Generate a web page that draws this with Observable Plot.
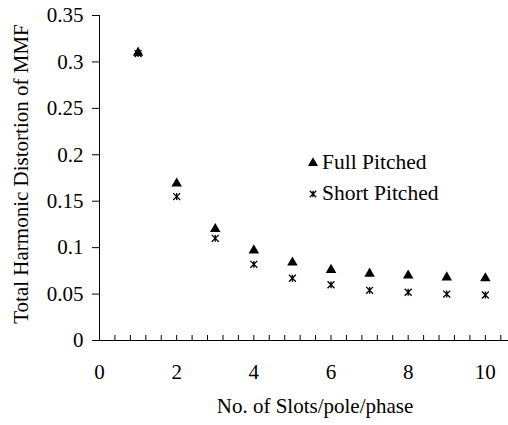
<!DOCTYPE html>
<html>
<head>
<meta charset="utf-8">
<script src="https://cdn.jsdelivr.net/npm/d3@7"></script>
<script src="https://cdn.jsdelivr.net/npm/@observablehq/plot@0.6"></script>
<style>
  html, body { margin: 0; padding: 0; background: #fff; }
  #wrap { position: relative; width: 508px; height: 425px; }
  #wrap, #wrap svg, #wrap svg text, .leg { font-family: 'Liberation Serif', serif !important; }
  .leg { position: absolute; left: 307px; font-size: 21.5px; color: #000; display: flex; align-items: center; white-space: nowrap; line-height: 24px; }
  .leg svg { margin-right: 2px; }
</style>
</head>
<body>
<div id="wrap"></div>
<script>
// Data
const slots = [1, 2, 3, 4, 5, 6, 7, 8, 9, 10];
const fullPitched = [0.310, 0.169, 0.120, 0.097, 0.084, 0.076, 0.072, 0.070, 0.068, 0.067];
const shortPitched = [0.309, 0.155, 0.110, 0.082, 0.067, 0.060, 0.054, 0.052, 0.050, 0.049];
const yTickValues = [0, 0.05, 0.1, 0.15, 0.2, 0.25, 0.3, 0.35];
const xTickLabels = [0, 2, 4, 6, 8, 10];
const xMinorTicks = d3.range(0, 27).map(i => +(i * 0.4).toFixed(1));
const seriesNames = ["Full Pitched", "Short Pitched"];

const rows = slots.flatMap((s, i) => [
  {slots: s, thd: fullPitched[i], series: seriesNames[0]},
  {slots: s, thd: shortPitched[i], series: seriesNames[1]}
]);

// Excel-like "star" marker: an X with a vertical bar
const starSymbol = {
  draw(ctx, size) {
    const h = Math.sqrt(size) / 2;
    ctx.moveTo(-h, -h); ctx.lineTo(h, h);
    ctx.moveTo(-h, h); ctx.lineTo(h, -h);
    ctx.moveTo(0, -h); ctx.lineTo(0, h);
  }
};

const FS = 21;

const chart = Plot.plot({
  width: 508,
  height: 425,
  marginLeft: 99,
  marginRight: 0,
  marginTop: 15,
  marginBottom: 85,
  style: {fontFamily: "'Liberation Serif', serif", fontSize: FS + "px", color: "#000", background: "#fff"},
  x: {domain: [0, 10.6], label: null},
  y: {domain: [0, 0.35], label: null},
  marks: [
    Plot.axisY({ticks: yTickValues, tickSize: 7, tickPadding: 9, tickFormat: d => String(+d.toFixed(2)), label: null, fontSize: FS}),
    Plot.axisX({ticks: xMinorTicks.filter(d => d <= 10.6), tickSize: -5, tickFormat: () => "", label: null}),
    Plot.axisX({ticks: xTickLabels, tickSize: 0, tickPadding: 24, label: null, fontSize: FS}),
    Plot.ruleX([0], {stroke: "#000"}),
    Plot.ruleY([0], {stroke: "#000"}),
    Plot.dot(rows.filter(d => d.series === seriesNames[0]), {x: "slots", y: "thd", symbol: "triangle", fill: "#000", r: 3.9}),
    Plot.dot(rows.filter(d => d.series === seriesNames[1]), {x: "slots", y: "thd", symbol: starSymbol, stroke: "#000", strokeWidth: 1.3, r: 3.9}),
    Plot.text(["Total Harmonic Distortion of MMF"], {frameAnchor: "left", rotate: -90, dx: -78, dy: -4, fontSize: FS, textAnchor: "middle"}),
    Plot.text(["No. of Slots/pole/phase"], {frameAnchor: "bottom", dx: 11, dy: 72, fontSize: FS, textAnchor: "middle"})
  ]
});

const wrap = document.getElementById("wrap");
wrap.appendChild(chart);

function legendItem(name, top, symbol, filled) {
  const div = document.createElement("div");
  div.className = "leg";
  div.style.top = top + "px";
  const svg = d3.create("svg").attr("width", 13).attr("height", 14);
  svg.append("path")
    .attr("transform", "translate(6,8)")
    .attr("d", d3.symbol(symbol, filled ? 44 : 42)())
    .attr("fill", filled ? "#000" : "none")
    .attr("stroke", filled ? "none" : "#000")
    .attr("stroke-width", 1.3);
  div.appendChild(svg.node());
  const span = document.createElement("span");
  span.textContent = name;
  div.appendChild(span);
  wrap.appendChild(div);
}
legendItem(seriesNames[0], 150, d3.symbolTriangle, true);
legendItem(seriesNames[1], 181, starSymbol, false);
</script>
</body>
</html>
